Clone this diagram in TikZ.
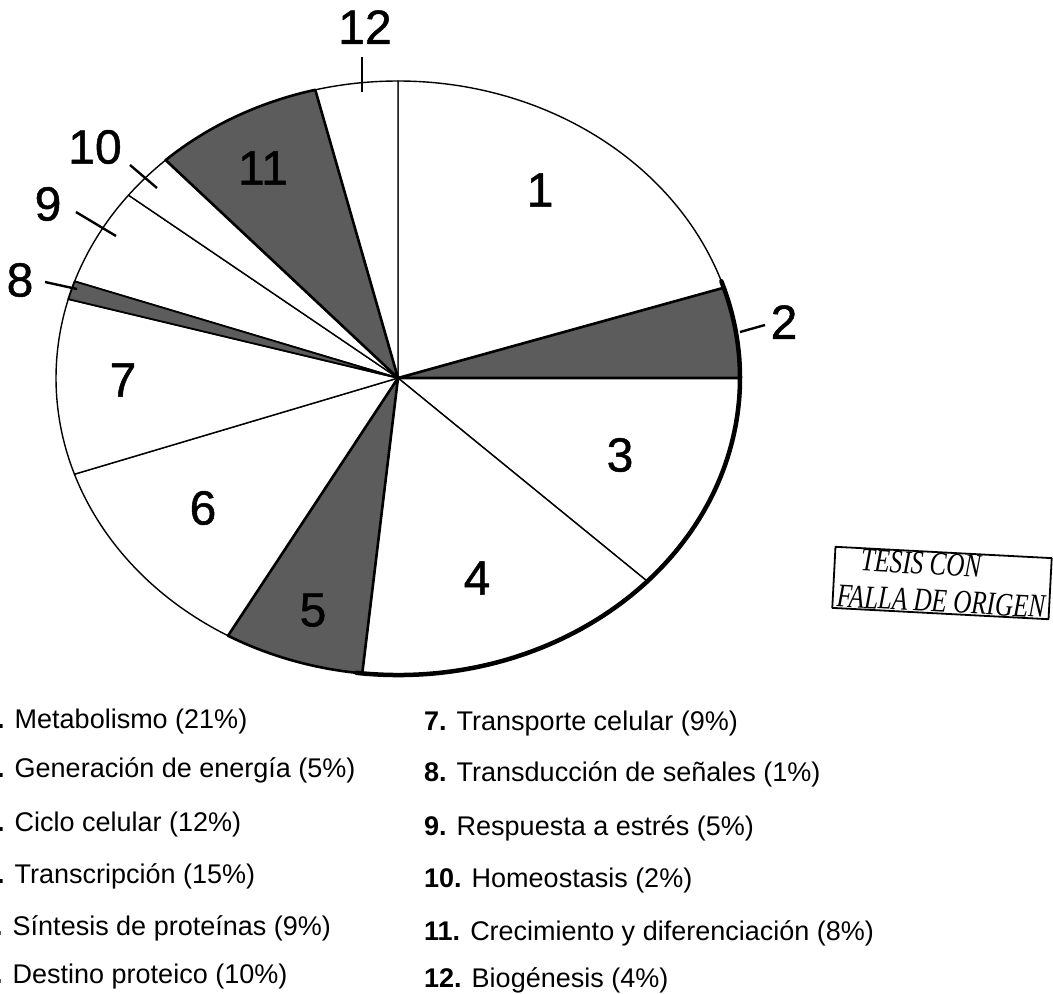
\documentclass[tikz,border=0pt]{standalone}
\usepackage{fontspec}
\setmainfont{Liberation Sans}
\newfontfamily\numfont{Liberation Sans}[FakeBold=1]
\newfontfamily\stampfont{Liberation Serif}
\begin{document}
\begin{tikzpicture}[x=1pt,y=1pt,line join=round]
\useasboundingbox (0,0) rectangle (1053,-994);
\tikzset{
  darkfill/.style={fill=black!64},
  thinedge/.style={draw=black,fill=white,line width=1.4pt},
  darkedge/.style={draw=black,darkfill,line width=2.6pt},
  num/.style={font=\numfont\fontsize{48}{48}\selectfont,inner sep=0pt},
  leg/.style={font=\fontsize{27}{32}\selectfont,anchor=base west,inner sep=0pt},
  tickline/.style={line width=2.4pt},
  stamp/.style={draw,line width=1.8pt,rotate=-3,inner xsep=4pt,inner ysep=1pt,align=left,
    font=\stampfont\itshape\fontsize{33}{37}\selectfont}
}
\coordinate (C) at (398,-378);
\newcommand\pieslice[3]{%
  \path[#3] (C) -- ++(#1:342pt and 297pt) arc[start angle=#1,end angle=#2,x radius=342pt,y radius=297pt] -- cycle;}
% white slices
\pieslice{17.7}{90}{thinedge}
\pieslice{-43.2}{0}{thinedge}
\pieslice{-96}{-43.2}{thinedge}
\pieslice{-161.1}{-119.8}{thinedge}
\pieslice{-195.4}{-161.1}{thinedge}
\pieslice{142}{161}{thinedge}
\pieslice{132.8}{142}{thinedge}
\pieslice{90}{104}{thinedge}
% dark slices
\pieslice{0}{17.7}{darkedge}
\pieslice{-119.8}{-96}{darkedge}
\pieslice{161}{164.6}{darkedge,line width=1.8pt}
\pieslice{104}{132.8}{darkedge}
% heavy outline lower right
\draw[line width=4.5pt,line cap=round] (C) ++(-97:342pt and 297pt) arc[start angle=-97,end angle=19,x radius=342pt,y radius=297pt];

% slice labels
\node[num] (n1) at (540,-190) {1};
\node[num] (n3) at (620,-455) {3};
\node[num] (n4) at (477,-578) {4};
\node[num] (n5) at (313,-610) {5};
\node[num] (n6) at (203,-508) {6};
\node[num] (n7) at (123,-380) {7};
\node[num] (n11) at (263,-168) {11};
% outside labels
\node[num] (n12) at (365,-27) {12};
\node[num] (n10) at (95,-147) {10};
\node[num] (n9) at (48,-204) {9};
\node[num] (n8) at (20,-280) {8};
\node[num] (n2) at (784,-322) {2};
% ticks
\coordinate (a12) at (362,-57); \coordinate (b12) at (362,-92);
\coordinate (a10) at (130,-165); \coordinate (b10) at (157,-188);
\coordinate (a9) at (76,-212); \coordinate (b9) at (116,-236);
\coordinate (a8) at (45,-282); \coordinate (b8) at (77,-289);
\coordinate (a2) at (765,-325); \coordinate (b2) at (740,-332);
\draw[tickline] (a12) -- (b12);
\draw[tickline] (a10) -- (b10);
\draw[tickline] (a9) -- (b9);
\draw[tickline] (a8) -- (b8);
\draw[tickline] (a2) -- (b2);

% stamp
\node[stamp] (st) at (942,-583) {\hspace*{22pt}\scalebox{0.76}[1]{TESIS CON}\\\scalebox{0.76}[1]{FALLA DE ORIGEN}};

% legend
\node[leg] (l1) at (-18,-728) {\textbf{1.} Metabolismo (21\%)};
\node[leg] (l2) at (-18,-777) {\textbf{2.} Generación de energía (5\%)};
\node[leg] (l3) at (-18,-831) {\textbf{3.} Ciclo celular (12\%)};
\node[leg] (l4) at (-18,-883) {\textbf{4.} Transcripción (15\%)};
\node[leg] (l5) at (-20,-935) {\textbf{5.} Síntesis de proteínas (9\%)};
\node[leg] (l6) at (-20,-983) {\textbf{6.} Destino proteico (10\%)};
\node[leg] (l7) at (424,-730) {\textbf{7.} Transporte celular (9\%)};
\node[leg] (l8) at (424,-781) {\textbf{8.} Transducción de señales (1\%)};
\node[leg] (l9) at (424,-835) {\textbf{9.} Respuesta a estrés (5\%)};
\node[leg] (l10) at (424,-887) {\textbf{10.} Homeostasis (2\%)};
\node[leg] (l11) at (424,-940) {\textbf{11.} Crecimiento y diferenciación (8\%)};
\node[leg] (l12) at (424,-987) {\textbf{12.} Biogénesis (4\%)};
\end{tikzpicture}
\end{document}
